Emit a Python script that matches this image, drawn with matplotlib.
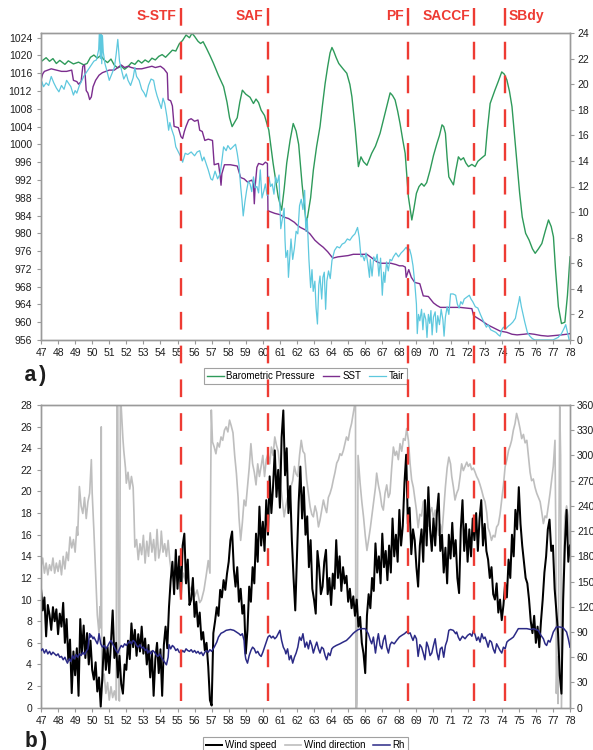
import numpy as np
import matplotlib
matplotlib.use("Agg")
import matplotlib.pyplot as plt
from matplotlib import transforms
from matplotlib.lines import Line2D

plt.rcParams['font.family'] = ['Liberation Sans', 'DejaVu Sans']

# ---------------- panel a) data (latitude S) ----------------
press_lat = [47.0, 47.3, 47.5, 47.7, 47.9, 48.1, 48.4, 48.6, 48.9, 49.2, 49.5, 49.7, 49.9, 50.1,
             50.3, 50.5, 50.7, 50.9, 51.1, 51.3, 51.5, 51.7, 51.9, 52.1, 52.3, 52.5, 52.7, 52.9,
             53.1, 53.3, 53.5, 53.7, 53.9, 54.1, 54.3, 54.5, 54.7, 54.9, 55.1, 55.3, 55.5, 55.7,
             55.85, 56.0, 56.2, 56.35, 56.5, 56.7, 56.9, 57.1, 57.4, 57.7, 57.9, 58.05, 58.2,
             58.35, 58.5, 58.65, 58.8, 59.0, 59.25, 59.45, 59.6, 59.75, 59.9, 60.1, 60.35, 60.6,
             60.9, 61.1, 61.25, 61.4, 61.6, 61.78, 61.95, 62.1, 62.3, 62.55, 62.8, 62.96, 63.15,
             63.35, 63.5, 63.65, 63.8, 63.94, 64.05, 64.15, 64.3, 64.45, 64.7, 64.92, 65.1, 65.22,
             65.42, 65.6, 65.75, 65.9, 66.1, 66.38, 66.6, 66.87, 67.16, 67.35, 67.46, 67.6, 67.75,
             67.9, 68.04, 68.2, 68.34, 68.53, 68.73, 68.85, 69.0, 69.15, 69.3, 69.45, 69.6, 69.8,
             70.0, 70.2, 70.35, 70.5, 70.6, 70.7, 70.8, 70.9, 71.17, 71.3, 71.46, 71.6, 71.76,
             71.9, 72.05, 72.25, 72.44, 72.6, 72.84, 73.03, 73.15, 73.32, 73.6, 73.8, 74.0, 74.15,
             74.3, 74.45, 74.6, 74.75, 74.9, 75.05, 75.2, 75.4, 75.6, 75.8, 75.96, 76.15, 76.35,
             76.55, 76.74, 76.9, 77.03, 77.15, 77.32, 77.5, 77.7, 77.85, 78.0]
press_hpa = [1018.6, 1019.5, 1018.7, 1019.3, 1018.2, 1018.9, 1018.0, 1018.8, 1018.1, 1018.5,
             1017.9, 1018.2, 1019.6, 1020.1, 1019.4, 1020.0, 1019.0, 1018.4, 1019.2, 1017.8,
             1017.2, 1017.6, 1016.9, 1017.5, 1018.4, 1018.0, 1018.9, 1018.3, 1019.0, 1018.5,
             1019.4, 1019.0, 1019.8, 1020.2, 1019.6, 1020.4, 1021.2, 1021.0, 1022.6, 1023.4,
             1024.6, 1024.0, 1025.0, 1024.3, 1023.2, 1022.7, 1023.1, 1021.6, 1020.0, 1018.3,
             1015.5, 1013.0, 1009.5, 1006.0, 1004.0, 1005.0, 1006.0, 1009.5, 1012.2, 1011.3,
             1010.6, 1009.2, 1010.2, 1009.4, 1007.7, 1006.5, 1003.2, 995.8, 988.2, 985.2,
             990.0, 995.8, 1001.0, 1004.7, 1003.0, 1000.0, 991.0, 982.0, 988.0, 994.2,
             999.5, 1004.0, 1009.0, 1013.7, 1017.5, 1020.6, 1021.8, 1021.0, 1019.5, 1018.2,
             1017.0, 1016.0, 1013.5, 1010.7, 1003.2, 995.0, 997.2, 996.1, 995.3, 998.0,
             999.6, 1002.5, 1007.0, 1010.0, 1011.6, 1011.0, 1010.0, 1007.5, 1004.7, 1001.0,
             998.0, 988.2, 983.0, 985.5, 989.0, 990.5, 991.2, 990.6, 991.4, 994.2,
             997.5, 1000.2, 1002.0, 1004.4, 1004.0, 1002.5, 997.0, 992.7, 990.9, 994.0,
             997.2, 996.5, 997.0, 995.8, 995.0, 995.5, 995.0, 996.2, 997.0, 997.6,
             1003.0, 1009.2, 1012.2, 1014.2, 1016.3, 1015.8, 1014.5, 1012.0, 1008.5, 1002.0,
             995.7, 989.0, 983.7, 980.0, 978.5, 976.5, 975.5, 976.5, 977.7, 980.5,
             983.0, 981.5, 979.2, 972.0, 963.5, 959.7, 960.0, 966.0, 974.7]

sst_lat = [47.0, 47.02, 47.1, 47.2, 47.4, 47.6, 47.9, 48.2, 48.5, 48.8, 48.9, 49.1, 49.2, 49.35,
           49.45, 49.55, 49.65, 49.75, 49.85, 49.95, 50.05, 50.2, 50.4, 50.6, 50.8, 51.0, 51.3,
           51.5, 51.7, 51.9, 52.1, 52.3, 52.6, 52.9, 53.2, 53.5, 53.7, 54.0, 54.2, 54.4, 54.45,
           54.6, 54.7, 54.8, 55.05, 55.2, 55.3, 55.4, 55.5, 55.65, 55.8, 56.0, 56.2, 56.3, 56.45,
           56.6, 56.8, 57.05, 57.15, 57.4, 57.5, 57.55, 57.6, 57.75, 58.1, 58.5, 58.7, 58.9,
           59.1, 59.35, 59.45, 59.5, 59.55, 59.65, 59.75, 60.0, 60.15, 60.27, 60.3, 60.5, 60.7,
           61.0, 61.25, 61.5, 61.85, 62.0, 62.2, 62.5, 62.76, 63.05, 63.3, 63.54, 63.8, 64.1,
           64.4, 64.7, 65.0, 65.3, 65.7, 66.1, 66.3, 66.5, 66.7, 66.9, 67.2, 67.5, 67.8, 68.0,
           68.2, 68.35, 68.4, 68.55, 68.7, 68.9, 69.2, 69.4, 69.7, 70.0, 70.2, 70.4, 70.8,
           71.2, 71.55, 71.9, 72.25, 72.35, 72.6, 72.84, 73.1, 73.3, 73.6, 73.9, 74.3, 74.6,
           74.9, 75.3, 75.6, 75.9, 76.3, 76.7, 77.1, 77.5, 77.8, 78.0]
sst_deg = [17.4, 20.4, 20.8, 21.0, 21.1, 21.2, 21.1, 21.0, 21.0, 21.1, 20.3, 20.2, 20.0, 20.2,
           21.4, 21.5, 19.5, 19.3, 18.8, 19.0, 19.8, 20.3, 20.7, 20.9, 21.0, 21.1, 21.1,
           21.3, 21.5, 21.3, 21.4, 21.3, 21.2, 21.2, 21.3, 21.4, 21.3, 21.4, 21.2, 20.85, 18.8,
           18.7, 18.3, 16.7, 16.6, 15.9, 15.75, 16.3, 16.7, 17.2, 17.3, 17.1, 17.2, 16.4, 16.3,
           15.6, 15.7, 15.6, 13.7, 13.8, 12.8, 12.1, 13.0, 13.7, 13.7, 13.6, 12.7, 12.6,
           12.35, 12.5, 12.2, 10.65, 12.0, 13.5, 13.8, 13.7, 13.9, 13.8, 10.1, 10.0, 9.9,
           9.8, 9.6, 9.5, 9.2, 9.0, 8.8, 8.6, 8.3, 7.8, 7.5, 7.25, 6.9, 6.4,
           6.5, 6.55, 6.6, 6.7, 6.7, 6.7, 6.5, 6.3, 6.1, 6.0, 6.0, 6.0, 5.9, 5.8,
           5.8, 5.7, 4.9, 5.5, 4.9, 4.5, 4.4, 3.45, 3.4, 2.9, 2.7, 2.55, 2.55,
           2.55, 2.55, 2.5, 2.45, 1.9, 1.7, 1.5, 1.25, 1.1, 0.9, 0.7, 0.6, 0.45,
           0.4, 0.45, 0.5, 0.45, 0.35, 0.3, 0.35, 0.4, 0.45, 0.5]

tair_lat = [47.0, 47.05, 47.15, 47.3, 47.45, 47.6, 47.75, 47.9, 48.05, 48.2, 48.35, 48.5, 48.65,
            48.75, 48.9, 49.0, 49.1, 49.25, 49.4, 49.5, 49.65, 49.8, 49.95, 50.1, 50.25, 50.38,
            50.42, 50.48, 50.52, 50.56, 50.6, 50.65, 50.75, 50.85, 51.0, 51.15, 51.3, 51.4, 51.5,
            51.6, 51.7, 51.85, 52.0, 52.1, 52.25, 52.4, 52.5, 52.6, 52.75, 52.9, 53.05, 53.15,
            53.3, 53.45, 53.6, 53.7, 53.8, 53.95, 54.05, 54.15, 54.25, 54.38, 54.48, 54.55,
            54.65, 54.8, 54.9, 55.05, 55.2, 55.3, 55.45, 55.6, 55.8, 56.0, 56.15, 56.3, 56.45,
            56.55, 56.7, 56.8, 56.95, 57.05, 57.2, 57.35, 57.5, 57.6, 57.7, 57.85, 57.95, 58.1,
            58.25, 58.4, 58.5, 58.6, 58.7, 58.78, 58.85, 58.95, 59.05, 59.15, 59.25, 59.35,
            59.45, 59.55, 59.65, 59.75, 59.85, 59.95, 60.05, 60.15, 60.25, 60.35, 60.45, 60.55,
            60.65, 60.75, 60.85, 60.95, 61.0, 61.05, 61.15, 61.25, 61.3, 61.35, 61.45, 61.5,
            61.58, 61.65, 61.75, 61.85, 61.95, 62.05, 62.15, 62.25, 62.35, 62.45, 62.52, 62.6,
            62.7, 62.8, 62.88, 62.95, 63.05, 63.12, 63.2, 63.28, 63.35, 63.45, 63.52, 63.6,
            63.68, 63.75, 63.85, 63.95, 64.05, 64.2, 64.35, 64.5, 64.65, 64.8, 64.95, 65.1,
            65.25, 65.4, 65.55, 65.65, 65.75, 65.85, 65.95, 66.05, 66.15, 66.25, 66.3, 66.4,
            66.5, 66.6, 66.7, 66.8, 66.9, 67.0, 67.08, 67.15, 67.25, 67.35, 67.45, 67.55,
            67.65, 67.8, 67.95, 68.1, 68.25, 68.4, 68.5, 68.6, 68.7, 68.8, 68.9, 69.0, 69.05,
            69.12, 69.2, 69.3, 69.38, 69.45, 69.55, 69.62, 69.7, 69.78, 69.85, 69.92, 70.0,
            70.1, 70.18, 70.25, 70.35, 70.45, 70.55, 70.62, 70.7, 70.8, 70.9, 71.0, 71.15,
            71.3, 71.4, 71.5, 71.6, 71.7, 71.8, 71.9, 72.0, 72.1, 72.2, 72.3, 72.45, 72.6,
            72.75, 72.85, 72.95, 73.1, 73.2, 73.35, 73.5, 73.65, 73.8, 73.9, 74.0, 74.1,
            74.25, 74.4, 74.5, 74.65, 74.8, 74.9, 75.0, 75.05, 75.15, 75.25, 75.35, 75.5,
            75.65, 75.8, 75.95, 76.3, 76.7, 77.0, 77.3, 77.5, 77.65, 77.75, 77.85, 77.95]
tair_deg = [19.4, 20.2, 19.8, 20.1, 19.9, 20.6, 20.1, 19.7, 19.4, 19.9, 19.6, 20.3, 20.0,
            19.8, 19.15, 19.5, 19.3, 19.9, 20.3, 20.6, 20.9, 21.2, 21.5, 21.8, 21.9, 22.7,
            24.0, 22.0, 23.9, 21.6, 23.8, 22.5, 21.6, 21.1, 20.3, 20.8, 21.3, 22.3, 23.5,
            21.8, 21.2, 20.4, 20.8, 20.3, 19.9, 20.5, 21.3, 20.6, 20.3, 19.6, 19.3, 19.0,
            19.9, 20.4, 20.3, 19.6, 19.1, 18.5, 18.1, 18.9, 18.5, 17.45, 16.4, 17.0,
            16.5, 15.9, 15.1, 14.7, 14.3, 13.9, 14.6, 14.5, 14.7, 14.4, 14.7, 14.8, 14.0,
            14.3, 13.7, 13.3, 12.6, 12.5, 13.2, 12.6, 13.0, 14.0, 15.1, 14.8, 15.2, 14.9,
            15.1, 15.3, 14.6, 13.7, 12.0, 10.9, 9.7, 10.8, 11.7, 12.4, 12.2, 11.6,
            12.75, 11.9, 12.0, 11.5, 13.3, 11.1, 11.6, 12.2, 11.3, 12.8, 12.0, 12.2,
            11.4, 12.75, 12.3, 12.9, 10.5, 8.7, 9.5, 10.3, 7.8, 6.45, 7.0, 4.9,
            6.5, 7.9, 6.3, 7.2, 8.5, 8.3, 10.5, 11.0, 10.2, 11.7, 8.5, 9.5,
            6.3, 4.1, 5.5, 3.8, 4.6, 2.5, 1.25, 4.3, 5.0, 3.2, 4.9, 5.3,
            2.4, 4.6, 5.4, 4.8, 6.2, 7.0, 7.3, 7.2, 7.5, 7.6, 7.9, 7.8,
            8.1, 8.3, 8.8, 8.0, 6.5, 6.6, 6.2, 6.8, 6.0, 4.9, 6.3, 5.0,
            6.5, 6.2, 6.7, 5.0, 6.4, 3.5, 5.3, 4.5, 6.1, 5.4, 6.3, 6.2,
            6.5, 6.8, 6.5, 6.8, 7.0, 7.25, 7.0, 7.1, 6.6, 5.8, 4.5, 2.8, 0.5,
            2.0, 1.5, 2.4, 0.8, 2.1, 1.6, 0.2, 2.0, 1.3, 2.3, 0.4, 1.8,
            2.2, 0.6, 1.9, 1.2, 2.4, 1.6, 0.3, 1.8, 2.6, 2.0, 3.6, 3.6,
            3.5, 2.8, 2.5, 3.0, 2.8, 3.2, 3.3, 3.4, 3.5, 3.2, 3.0, 2.6, 2.5,
            2.0, 1.7, 1.4, 1.0, 1.2, 0.8, 0.7, 0.6, 0.4, 0.3, 0.8, 1.0,
            0.9, 1.1, 1.2, 1.4, 1.7, 2.4, 3.0, 3.4, 2.6, 2.0, 1.4, 0.6,
            0.3, 0.1, 0.0, 0.0, 0.0, 0.0, 0.2, 0.5, 0.9, 1.2, 0.6, 0.0]

# ---------------- panel b) data ----------------
# wind speed sampled every 0.1 deg from 47.0 to 78.0
wind_speed = [
    11.0, 9.0, 10.2, 6.6, 9.5, 8.6, 7.2, 9.3, 8.0, 9.1,
    6.8, 8.7, 7.5, 9.7, 6.0, 8.2, 4.4, 6.3, 1.35, 5.2,
    3.0, 5.5, 1.1, 8.2, 5.0, 7.6, 4.6, 6.9, 4.0, 6.2,
    3.5, 2.6, 4.2, 1.5, 2.8, 0.1, 3.0, 6.5, 3.5, 5.6,
    3.2, 6.0, 9.0, 4.6, 6.0, 2.8, 4.8, 2.2, 1.3, 4.0,
    3.5, 6.2, 4.5, 7.8, 5.6, 7.2, 4.8, 6.8, 5.2, 7.5,
    5.0, 6.4, 4.0, 5.8, 2.8, 5.2, 1.1, 4.5, 6.0, 3.2,
    5.4, 1.1, 5.8, 7.5, 5.5, 9.3, 11.8, 13.5, 10.5, 14.6,
    11.0, 14.0, 10.2, 15.0, 16.1, 11.5, 13.7, 9.5, 10.0, 12.0,
    8.4, 9.8, 7.5, 8.8, 6.3, 7.0, 5.3, 6.0, 3.8, 0.7,
    0.2, 6.9, 8.0, 9.3, 8.5, 10.9, 10.2, 11.8, 10.9, 12.4,
    13.5, 15.5, 16.3, 12.8, 11.2, 13.0, 9.8, 11.0, 8.7, 9.5,
    5.0, 7.2, 11.2, 9.8, 13.0, 11.5, 16.1, 13.5, 18.6, 15.0,
    17.2, 14.5, 19.2, 16.0, 21.4, 18.0, 20.5, 23.8, 19.5, 22.0,
    18.5, 25.0, 27.5, 21.5, 24.0, 18.0, 20.5, 15.5, 12.0, 9.0,
    14.0, 19.0, 22.3, 17.5, 20.4, 16.0, 17.7, 13.0, 15.5, 11.0,
    10.0, 8.7, 14.5, 13.0, 10.5, 11.2, 13.5, 14.6, 10.5, 12.0,
    9.5, 12.4, 11.0, 15.5, 12.0, 14.0, 10.8, 13.0, 11.5, 12.2,
    9.8, 11.0, 9.2, 10.3, 8.5, 10.0, 7.5, 8.4, 6.0, 5.0,
    3.2, 8.5, 10.5, 9.2, 12.0, 10.8, 15.2, 12.5, 14.0, 11.5,
    16.1, 13.0, 14.5, 11.8, 15.0, 12.5, 17.5, 14.0, 16.0, 13.5,
    18.3, 15.0, 16.8, 20.8, 23.4, 17.0, 18.5, 14.2, 16.5, 15.5,
    13.0, 11.2, 15.0, 16.5, 13.5, 19.2, 15.0, 20.4, 16.5, 14.5,
    17.5, 15.0, 18.0, 19.8, 14.5, 16.0, 12.5, 14.8, 11.5, 16.0,
    13.8, 17.1, 14.0, 15.5, 12.0, 10.6, 16.5, 19.2, 14.5, 17.0,
    13.5, 16.5, 14.0, 17.5, 15.5, 18.0, 14.5, 17.5, 19.2, 15.0,
    17.0, 14.5, 13.7, 12.0, 13.0, 10.5, 10.0, 11.5, 8.8, 10.0,
    8.1, 9.5, 11.5, 10.2, 13.7, 12.0, 16.0, 14.0, 18.3, 16.5,
    20.4, 17.0, 15.0, 13.5, 12.0, 11.5, 10.0, 8.0, 6.9, 8.5,
    6.0, 7.5, 5.6, 8.0, 10.0, 12.5, 14.0, 16.5, 17.4, 14.5,
    15.0, 11.0, 9.0, 6.9, 3.0, 1.3, 10.0, 15.0, 18.3, 13.5,
    15.0]
ws_lat = np.linspace(47.0, 78.0, len(wind_speed))

wdir_lat = [47.0, 47.1, 47.2, 47.3, 47.4, 47.5, 47.6, 47.7, 47.8, 47.9, 48.0, 48.1, 48.2, 48.3,
            48.4, 48.5, 48.6, 48.7, 48.8, 48.9, 49.0, 49.1, 49.15, 49.25, 49.35, 49.45, 49.55,
            49.65, 49.75, 49.85, 49.95, 50.0, 50.1, 50.2, 50.3, 50.4, 50.45, 50.5, 50.53, 50.56,
            50.6, 50.7, 50.8, 50.9, 51.0, 51.1, 51.2, 51.3, 51.4, 51.45, 51.5, 51.55, 51.6,
            51.65, 51.7, 51.8, 51.85, 51.95, 52.0, 52.1, 52.2, 52.3, 52.4, 52.45, 52.5, 52.6,
            52.7, 52.8, 52.9, 53.0, 53.1, 53.2, 53.3, 53.4, 53.5, 53.6, 53.7, 53.8, 53.9, 54.0,
            54.05, 54.15, 54.25, 54.35, 54.45, 54.55, 54.65, 54.8, 54.9, 55.0, 55.1, 55.2,
            55.35, 55.5, 55.6, 55.75, 55.9, 56.0, 56.15, 56.3, 56.4, 56.55, 56.7, 56.8, 56.9,
            56.98, 57.05, 57.15, 57.25, 57.35, 57.45, 57.55, 57.65, 57.75, 57.85, 57.95, 58.05,
            58.15, 58.25, 58.35, 58.45, 58.55, 58.6, 58.7, 58.8, 58.9, 59.0, 59.1, 59.2, 59.3,
            59.4, 59.5, 59.6, 59.7, 59.8, 59.9, 60.0, 60.1, 60.2, 60.3, 60.4, 60.5, 60.6, 60.7,
            60.8, 60.9, 61.0, 61.05, 61.15, 61.25, 61.35, 61.45, 61.55, 61.65, 61.75, 61.85,
            61.95, 62.05, 62.15, 62.25, 62.35, 62.45, 62.57, 62.67, 62.77, 62.87, 62.96, 63.06,
            63.16, 63.26, 63.35, 63.45, 63.55, 63.65, 63.74, 63.84, 63.94, 64.04, 64.13, 64.23,
            64.33, 64.43, 64.52, 64.62, 64.72, 64.82, 64.9, 65.0, 65.1, 65.2, 65.3, 65.38,
            65.43, 65.45, 65.5, 65.52, 65.58, 65.7, 65.8, 65.9, 66.0, 66.1, 66.2, 66.3, 66.4,
            66.5, 66.6, 66.67, 66.77, 66.87, 66.97, 67.06, 67.16, 67.26, 67.36, 67.45, 67.55,
            67.65, 67.75, 67.84, 67.94, 68.04, 68.14, 68.24, 68.34, 68.43, 68.53, 68.63, 68.72,
            68.82, 68.92, 69.0, 69.1, 69.2, 69.3, 69.4, 69.5, 69.6, 69.7, 69.8, 69.9, 70.0,
            70.1, 70.2, 70.3, 70.4, 70.5, 70.6, 70.7, 70.8, 70.9, 71.0, 71.07, 71.17, 71.26,
            71.36, 71.46, 71.56, 71.65, 71.75, 71.85, 71.95, 72.04, 72.14, 72.24, 72.34, 72.44,
            72.53, 72.63, 72.73, 72.83, 72.93, 73.02, 73.12, 73.2, 73.3, 73.4, 73.5, 73.6,
            73.7, 73.8, 73.9, 74.0, 74.1, 74.2, 74.3, 74.4, 74.5, 74.58, 74.68, 74.78, 74.87,
            74.97, 75.07, 75.17, 75.27, 75.37, 75.47, 75.56, 75.66, 75.75, 75.85, 75.95, 76.05,
            76.15, 76.25, 76.35, 76.44, 76.54, 76.63, 76.73, 76.83, 76.93, 77.02, 77.12, 77.17,
            77.2, 77.25, 77.3, 77.35, 77.4, 77.45, 77.5, 77.6, 77.7, 77.8, 77.9, 78.0]
wdir_deg = [168, 178, 160, 172, 158, 170, 163, 178, 160, 172, 162, 175, 158, 180,
            165, 185, 175, 203, 190, 200, 185, 215, 205, 263, 240, 231, 250,
            225, 245, 255, 295, 255, 210, 160, 110, 88, 120, 95, 334, 60,
            29, 40, 17, 30, 9, 25, 12, 20, 9, 360, 358, 10, 8,
            360, 358, 320, 306, 285, 267, 280, 260, 275, 262, 230, 191, 200,
            176, 195, 182, 205, 172, 198, 180, 208, 185, 200, 175, 212, 178, 190,
            210, 185, 195, 180, 199, 175, 160, 148, 165, 150, 158, 145,
            160, 148, 152, 140, 145, 132, 140, 125, 128, 140, 160, 175, 160,
            354, 316, 310, 302, 315, 310, 322, 318, 330, 334, 328, 342,
            335, 327, 300, 279, 250, 227, 199, 220, 247, 240, 262, 285, 314,
            290, 280, 265, 290, 275, 287, 300, 275, 295, 302, 290, 310, 300, 322,
            312, 305, 285, 263, 245, 227, 240, 250, 235, 263, 270, 287,
            278, 275, 300, 318, 305, 302, 271, 255, 239, 230, 227, 240,
            232, 215, 223, 235, 247, 238, 232, 250, 255, 262, 271, 280,
            291, 295, 302, 300, 306, 315, 322, 318, 330, 338, 350, 360,
            360, 0, 0, 5, 300, 267, 245, 227, 205, 187, 200, 214, 230,
            247, 262, 279, 265, 255, 240, 235, 255, 265, 250, 255, 285,
            310, 300, 305, 295, 314, 305, 320, 318, 332, 318, 290, 271,
            262, 247, 235, 214, 230, 228, 245, 247, 232, 216, 232, 238, 225,
            235, 220, 205, 218, 208, 235, 263, 285, 298, 290, 275, 262, 247,
            255, 260, 275, 290, 282, 287, 292, 287, 290, 283, 285, 280,
            275, 271, 265, 258, 250, 245, 232, 214, 208, 199, 205, 203,
            215, 218, 230, 247, 265, 287, 295, 306, 312, 318, 330, 338, 350,
            342, 332, 320, 325, 315, 318, 300, 280, 270, 272, 262, 255,
            250, 245, 232, 219, 228, 226, 240, 255, 272, 287, 318, 200,
            17, 60, 5, 200, 358, 300, 0, 150, 227, 240, 227, 190]

rh_lat = [47.0, 47.1, 47.2, 47.3, 47.4, 47.5, 47.6, 47.7, 47.8, 47.9, 48.0, 48.1, 48.2, 48.3,
          48.4, 48.5, 48.55, 48.65, 48.75, 48.85, 48.95, 49.05, 49.15, 49.25, 49.35, 49.45,
          49.55, 49.65, 49.75, 49.8, 49.85, 49.9, 49.95, 50.05, 50.1, 50.2, 50.3, 50.35, 50.4,
          50.45, 50.5, 50.6, 50.7, 50.8, 50.9, 51.0, 51.1, 51.2, 51.3, 51.4, 51.5, 51.6, 51.7,
          51.8, 51.9, 52.0, 52.1, 52.2, 52.3, 52.4, 52.5, 52.6, 52.7, 52.8, 52.9, 53.0, 53.1,
          53.2, 53.25, 53.35, 53.45, 53.55, 53.65, 53.75, 53.85, 53.95, 54.05, 54.15, 54.25,
          54.35, 54.45, 54.5, 54.6, 54.7, 54.8, 54.9, 55.0, 55.1, 55.2, 55.3, 55.4, 55.5,
          55.6, 55.7, 55.8, 55.9, 56.0, 56.1, 56.2, 56.3, 56.4, 56.5, 56.6, 56.7, 56.8, 56.9,
          57.0, 57.15, 57.3, 57.4, 57.55, 57.7, 57.85, 57.95, 58.1, 58.3, 58.45, 58.6, 58.7,
          58.8, 58.9, 58.95, 59.0, 59.1, 59.2, 59.3, 59.4, 59.5, 59.6, 59.7, 59.8, 59.9, 60.0,
          60.1, 60.2, 60.3, 60.4, 60.5, 60.6, 60.7, 60.8, 60.9, 61.0, 61.1, 61.2, 61.3, 61.35,
          61.45, 61.55, 61.65, 61.75, 61.85, 61.95, 62.05, 62.15, 62.25, 62.35, 62.47, 62.57,
          62.67, 62.77, 62.87, 62.96, 63.06, 63.16, 63.26, 63.35, 63.45, 63.55, 63.65, 63.74,
          63.84, 63.94, 64.04, 64.13, 64.3, 64.52, 64.7, 64.9, 65.1, 65.3, 65.45, 65.6, 65.8,
          66.0, 66.18, 66.3, 66.38, 66.48, 66.6, 66.7, 66.77, 66.87, 66.97, 67.06, 67.16,
          67.26, 67.36, 67.46, 67.55, 67.7, 67.84, 68.0, 68.14, 68.3, 68.43, 68.53, 68.63,
          68.72, 68.8, 68.9, 69.0, 69.1, 69.2, 69.3, 69.4, 69.5, 69.6, 69.7, 69.8, 69.9, 70.0,
          70.1, 70.2, 70.3, 70.4, 70.5, 70.6, 70.7, 70.8, 70.9, 71.0, 71.16, 71.3, 71.36,
          71.45, 71.55, 71.7, 71.85, 72.0, 72.14, 72.25, 72.34, 72.45, 72.53, 72.63, 72.73,
          72.83, 72.93, 73.02, 73.12, 73.2, 73.3, 73.4, 73.5, 73.6, 73.7, 73.8, 73.9, 74.0,
          74.1, 74.2, 74.3, 74.4, 74.55, 74.68, 74.8, 74.97, 75.2, 75.47, 75.7, 75.85, 76.0,
          76.14, 76.3, 76.44, 76.54, 76.63, 76.73, 76.83, 76.93, 77.02, 77.2, 77.4, 77.6,
          77.8, 77.9, 78.0]
rh_pct = [68, 70, 65, 69, 64, 67, 63, 66, 64, 62, 64, 60, 61, 57,
          60, 55, 53, 58, 55, 62, 58, 63, 60, 64, 62, 66,
          63, 67, 70, 80, 88, 84, 86, 82, 84, 80, 76, 80, 88,
          82, 76, 72, 74, 70, 73, 77, 80, 76, 72, 68, 65, 70, 74,
          72, 76, 74, 77, 79, 76, 80, 78, 74, 72, 75, 71, 72, 68,
          70, 65, 68, 64, 68, 66, 63, 61, 64, 60, 57, 54,
          51, 60, 75, 70, 74, 72, 68, 70, 66, 65, 68, 66, 70,
          68, 67, 69, 66, 68, 65, 67, 64, 66, 62, 66, 68, 66, 69,
          67, 72, 78, 84, 88.5, 90, 92, 92.4, 93, 92, 90, 88, 86,
          88, 80, 65, 58, 53, 62, 68, 72, 70, 65, 67, 63, 61, 66,
          72, 78, 84, 86, 83, 85, 82, 84, 88, 92, 80, 72, 68, 64,
          70, 57, 62, 53, 60, 65, 72, 84, 80, 88, 72, 78,
          70, 80, 74, 65, 72, 78, 70, 65, 72, 70, 62, 57,
          65, 62, 70, 72, 74, 76, 78, 80, 84, 88.5, 91, 93, 94,
          94, 88, 80, 76, 84, 65, 80, 88, 74, 70, 80, 86,
          72, 65, 75, 78, 76, 80, 84, 86, 88, 90.4, 88, 89,
          84, 80, 86, 82, 61, 75, 72, 65, 57, 78, 72, 62, 65, 74,
          82, 66, 57, 70, 72, 60, 74, 80, 92, 93, 92, 88, 90,
          84, 80, 85, 82, 86, 88, 85, 92, 86, 80, 84, 78,
          88, 82, 84, 78, 72, 80, 78, 70, 65, 76, 72, 68, 65,
          72, 70, 78, 80, 82, 84, 88, 94, 94, 94, 93, 94, 93,
          92, 86, 82, 76, 74, 80, 78, 84, 90, 96, 96, 95,
          90, 82, 72]

# oceanic fronts
front_lat = [55.2, 60.3, 68.5, 72.4, 74.2]
front_name = ['S-STF', 'SAF', 'PF', 'SACCF', 'SBdy']

C_PRESS = '#2E9A5A'
C_SST = '#7B2D8E'
C_TAIR = '#5EC8DE'
C_WS = '#000000'
C_WDIR = '#BEBEBE'
C_RH = '#2B2A86'
C_RED = '#EE3B33'
C_SPINE = '#9A9A9A'
C_TXT = '#1E1E1E'

W, H = 593, 750
fig = plt.figure(figsize=(W / 100, H / 100), dpi=100)


def px_rect(x0, y0, x1, y1):
    return [x0 / W, 1 - y1 / H, (x1 - x0) / W, (y1 - y0) / H]


def style_axes(ax, right=False):
    for s in ax.spines.values():
        s.set_color(C_SPINE)
        s.set_linewidth(1.0)
    ax.tick_params(axis='both', labelsize=7.5, colors=C_SPINE, labelcolor=C_TXT,
                   length=3, width=0.8, direction='out')
    if right:
        ax.tick_params(axis='y', pad=2)
    else:
        ax.tick_params(axis='y', pad=3.5)
        ax.tick_params(axis='x', pad=3)


# ---------------- panel a ----------------
ax_a = fig.add_axes(px_rect(41, 33, 570, 340))
ax_a2 = ax_a.twinx()
ax_a.plot(press_lat, press_hpa, color=C_PRESS, lw=1.0, label='Barometric Pressure')
ax_a2.plot(sst_lat, sst_deg, color=C_SST, lw=1.0, label='SST')
ax_a2.plot(tair_lat, tair_deg, color=C_TAIR, lw=0.9, label='Tair')
ax_a.set_xlim(47, 78)
ax_a.set_ylim(956, 1025.06)
ax_a.set_yticks(range(956, 1025, 4))
ax_a2.set_ylim(0, 24)
ax_a2.set_yticks(range(0, 25, 2))
ax_a.set_xticks(range(47, 79))
style_axes(ax_a)
style_axes(ax_a2, right=True)

# ---------------- panel b ----------------
ax_b = fig.add_axes(px_rect(41, 405, 570, 707.7))
ax_b2 = ax_b.twinx()     # wind direction (bottom layer)
ax_b3 = ax_b.twinx()     # Rh (top layer), same 0-360 scale
ax_b2.plot(wdir_lat, wdir_deg, color=C_WDIR, lw=1.2, label='Wind direction')
ax_b.plot(ws_lat, wind_speed, color=C_WS, lw=1.45, label='Wind speed')
ax_b3.plot(rh_lat, rh_pct, color=C_RH, lw=1.1, label='Rh')
ax_b2.set_zorder(1)
ax_b.set_zorder(2)
ax_b3.set_zorder(3)
ax_b.patch.set_visible(False)
ax_b3.patch.set_visible(False)
ax_b.set_xlim(47, 78)
ax_b.set_ylim(0, 28)
ax_b.set_yticks(range(0, 29, 2))
ax_b.set_xticks(range(47, 79))
for a in (ax_b2, ax_b3):
    a.set_ylim(0, 360)
    a.set_yticks(range(0, 361, 30))
style_axes(ax_b)
style_axes(ax_b2, right=True)
style_axes(ax_b3, right=True)
ax_b3.tick_params(axis='y', labelright=False, right=False)
for s in ax_b3.spines.values():
    s.set_visible(False)

# ---------------- fronts: dashed red lines through both panels ----------------
trans = transforms.blended_transform_factory(ax_a.transData, fig.transFigure)
for lat, name in zip(front_lat, front_name):
    ln = Line2D([lat, lat], [1 - 8 / H, 1 - 707 / H], transform=trans, color=C_RED,
                lw=1.7, dashes=(7.5, 6.8), zorder=10)
    fig.add_artist(ln)
    if name == 'SBdy':
        ax_a.annotate(name, xy=(lat, 1 - 16 / H), xycoords=trans, xytext=(2.5, 0),
                      textcoords='offset points', ha='left', va='center', color=C_RED,
                      fontsize=10, fontweight='bold', annotation_clip=False)
    else:
        ax_a.annotate(name, xy=(lat, 1 - 16 / H), xycoords=trans, xytext=(-3, 0),
                      textcoords='offset points', ha='right', va='center', color=C_RED,
                      fontsize=10, fontweight='bold', annotation_clip=False)

# ---------------- legends and panel letters ----------------
leg_kw = dict(loc='center', ncol=3, fontsize=7, frameon=True, fancybox=False,
              edgecolor='#8A8A8A', handlelength=1.7, handletextpad=0.3,
              columnspacing=0.8, borderpad=0.3, borderaxespad=0)
h_a = ax_a.get_lines() + ax_a2.get_lines()
leg_a = fig.legend(h_a, [l.get_label() for l in h_a],
                   bbox_to_anchor=(305.5 / W, 1 - 376 / H), **leg_kw)
leg_a.get_frame().set_linewidth(0.8)
h_b = ax_b.get_lines() + ax_b2.get_lines() + ax_b3.get_lines()
leg_b = fig.legend(h_b, [l.get_label() for l in h_b],
                   bbox_to_anchor=(305.5 / W, 1 - 745 / H), **leg_kw)
leg_b.get_frame().set_linewidth(0.8)

fig.text(24 / W, 1 - 375 / H, 'a)', family=['Liberation Mono', 'DejaVu Sans Mono'],
         fontweight='bold', fontsize=15.5, va='center', ha='left', color=C_TXT)
fig.text(24 / W, 1 - 741 / H, 'b)', family=['Liberation Mono', 'DejaVu Sans Mono'],
         fontweight='bold', fontsize=15.5, va='center', ha='left', color=C_TXT)

fig.savefig('out.png', dpi=100)
